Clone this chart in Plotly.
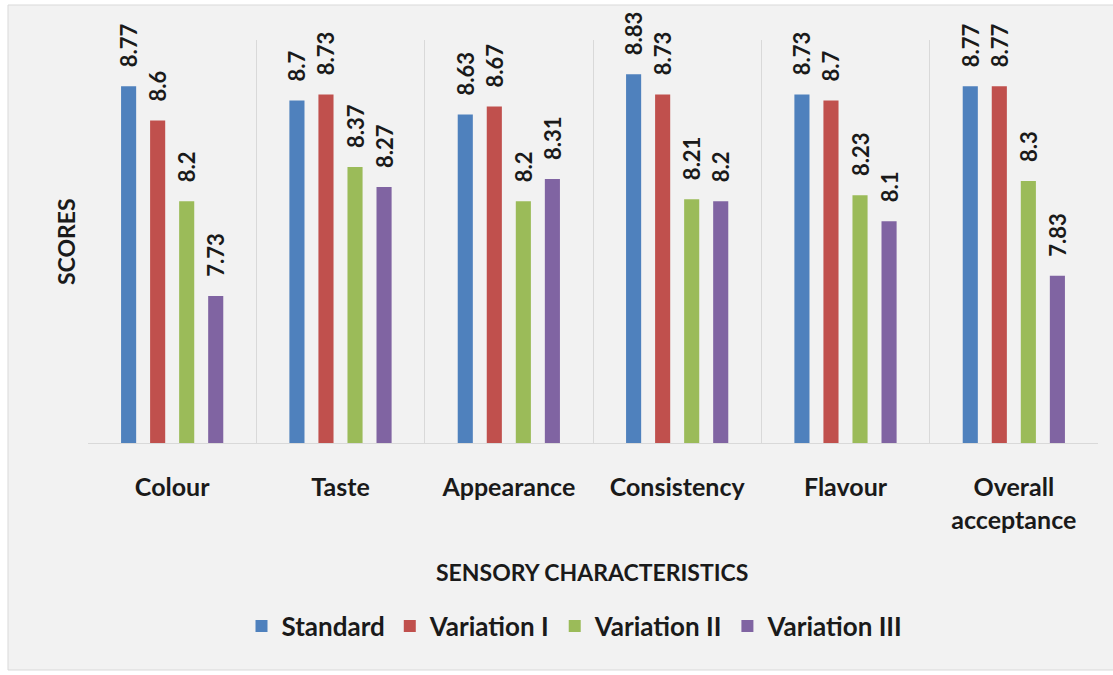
import plotly.graph_objects as go

categories = ["Colour", "Taste", "Appearance", "Consistency", "Flavour", "Overall<br>acceptance"]
series_names = ["Standard", "Variation I", "Variation II", "Variation III"]
standard = [8.77, 8.70, 8.63, 8.83, 8.73, 8.77]
variation_1 = [8.60, 8.73, 8.67, 8.73, 8.70, 8.77]
variation_2 = [8.20, 8.37, 8.20, 8.21, 8.23, 8.30]
variation_3 = [7.73, 8.27, 8.31, 8.20, 8.10, 7.83]
series_values = [standard, variation_1, variation_2, variation_3]
colors = ["#4F81BD", "#C0504D", "#9BBB59", "#8064A2"]
y_range = [7, 9]

FONT = "Lato"
TXT = "#1a1a1a"
W, H = 1113, 675
L, R, T, B = 88, 15, 40, 232
PW, PH = W - L - R, H - T - B


def px2paper_x(px):
    return (px - L) / PW


def px2paper_y(py):
    return (H - B - py) / PH


def fmt(v):
    return f"{v:.2f}".rstrip("0").rstrip(".")


fig = go.Figure()
for name, vals, col in zip(series_names, series_values, colors):
    fig.add_trace(go.Bar(
        name=name,
        x=categories,
        y=vals,
        marker=dict(color=col, line=dict(width=0)),
        text=["\u00a0\u00a0\u00a0" + fmt(v) for v in vals],
        textposition="outside",
        textangle=-90,
        constraintext="none",
        cliponaxis=False,
        textfont=dict(family=FONT, size=22, color=TXT, weight="bold"),
    ))

fig.update_layout(
    width=W, height=H,
    margin=dict(l=L, r=R, t=T, b=B, autoexpand=False),
    paper_bgcolor="white",
    plot_bgcolor="#f2f2f2",
    barmode="group",
    bargap=0.31,
    bargroupgap=0.48,
    showlegend=True,
    legend=dict(
        orientation="h",
        x=px2paper_x(575), xanchor="center",
        y=px2paper_y(626), yanchor="middle",
        font=dict(family=FONT, size=26, color=TXT, weight="bold"),
        bgcolor="rgba(0,0,0,0)",
        itemwidth=30,
        traceorder="normal",
    ),
    xaxis=dict(
        tickson="boundaries",
        showgrid=True,
        gridcolor="#d9d9d9",
        gridwidth=1,
        showline=True,
        linecolor="#d9d9d9",
        ticks="",
        ticklabelstandoff=22,
        tickfont=dict(family=FONT, size=25, color=TXT, weight="bold"),
        fixedrange=True,
    ),
    yaxis=dict(
        range=y_range,
        showgrid=False,
        showticklabels=False,
        zeroline=False,
        ticks="",
        fixedrange=True,
    ),
    shapes=[
        dict(type="rect", xref="paper", yref="paper",
             x0=px2paper_x(8), x1=px2paper_x(1125),
             y0=px2paper_y(670), y1=px2paper_y(5),
             line=dict(color="#d9d9d9", width=1), fillcolor="#f2f2f2", layer="below"),
    ],
    annotations=[
        dict(text="SCORES", xref="paper", yref="paper",
             x=px2paper_x(66), y=px2paper_y(242), textangle=-90,
             showarrow=False, xanchor="center", yanchor="middle",
             font=dict(family=FONT, size=23, color=TXT, weight="bold")),
        dict(text="SENSORY CHARACTERISTICS", xref="paper", yref="paper",
             x=px2paper_x(592), y=px2paper_y(572),
             showarrow=False, xanchor="center", yanchor="middle",
             font=dict(family=FONT, size=23, color=TXT, weight="bold")),
    ],
)

fig.write_html("out.html")
